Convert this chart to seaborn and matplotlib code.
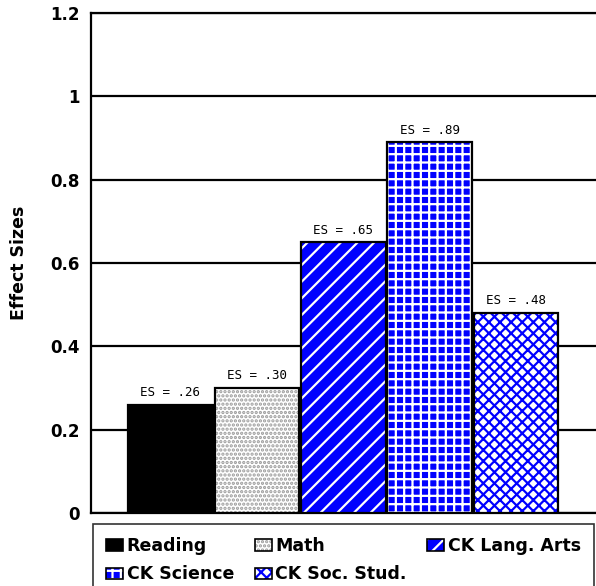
import matplotlib
matplotlib.use("Agg")
import matplotlib.pyplot as plt
import seaborn as sns
import pandas as pd
from matplotlib.patches import Patch, Rectangle

subjects = ["Reading", "Math", "CK Lang. Arts", "CK Science", "CK Soc. Stud."]
effect_sizes = [0.26, 0.30, 0.65, 0.89, 0.48]
es_labels = ["ES = .26", "ES = .30", "ES = .65", "ES = .89", "ES = .48"]
y_ticks = [0, 0.2, 0.4, 0.6, 0.8, 1.0, 1.2]
y_tick_labels = ["0", "0.2", "0.4", "0.6", "0.8", "1", "1.2"]

face_colors = ["black", "white", "#0000ff", "#0000ff", "white"]
hatch_colors = ["black", "#9a9a9a", "white", "white", "#0000ff"]
hatches = ["", "....", "//", "++", "xxx"]

df = pd.DataFrame({"Subject": subjects, "ES": effect_sizes})

sns.set_style("white")
plt.rcParams["hatch.linewidth"] = 1.6
plt.rcParams["font.family"] = ["DejaVu Sans"]
for key in ["text.color", "axes.labelcolor", "xtick.color", "ytick.color"]:
    plt.rcParams[key] = "black"

fig = plt.figure(figsize=(5.96, 5.86), dpi=100)
ax = fig.add_axes([91 / 596, 1 - 513 / 586, 505 / 596, 500 / 586])

sns.barplot(
    data=df, x="Subject", y="ES", hue="Subject",
    palette=dict(zip(subjects, face_colors)),
    width=0.98, legend=False, ax=ax, zorder=3,
)

for p, fc, hc, h, lab in zip(ax.patches, face_colors, hatch_colors, hatches, es_labels):
    p.set_facecolor(fc)
    p.set_edgecolor(hc)
    p.set_hatch(h)
    p.set_linewidth(0)
    ax.add_patch(Rectangle(p.get_xy(), p.get_width(), p.get_height(),
                           fill=False, edgecolor="black", linewidth=1.6, zorder=4))
    ax.annotate(lab, (p.get_x() + p.get_width() / 2, p.get_height()),
                xytext=(0, 4), textcoords="offset points", color="black",
                ha="center", va="bottom", fontsize=9, family="DejaVu Sans Mono")

ax.set_xlim(-0.92, 4.925)
ax.set_ylim(0, 1.2)
ax.set_yticks(y_ticks)
ax.set_yticklabels(y_tick_labels, fontsize=12, fontweight="bold", color="black")
ax.tick_params(axis="y", length=0, pad=8)
ax.set_xticks([])
ax.set_xlabel("")
ax.set_ylabel("Effect Sizes", fontsize=12.5, fontweight="bold", labelpad=16, color="black")

ax.yaxis.grid(True, color="black", linewidth=1.6, zorder=1)
ax.set_axisbelow(True)
for side in ["left", "top", "bottom"]:
    ax.spines[side].set_color("black")
    ax.spines[side].set_linewidth(1.6)
ax.spines["right"].set_visible(False)

handles = []
for fc, hc, h in zip(face_colors, hatch_colors, hatches):
    handles.append((Patch(facecolor=fc, edgecolor=hc, hatch=h, linewidth=0),
                    Patch(fill=False, edgecolor="black", linewidth=1.2)))

# legend fills columns first, so reorder to get rows Reading/Math/Lang, Science/Soc
order = [0, 3, 1, 4, 2]
leg = fig.legend(
    [handles[i] for i in order], [subjects[i] for i in order],
    loc="upper left", bbox_to_anchor=(93 / 596, 1 - 524 / 586, 501 / 596, 0),
    mode="expand", ncol=3, frameon=True, fancybox=False,
    prop={"weight": "bold", "size": 12.5},
    handlelength=1.0, handleheight=0.65, handletextpad=0.2,
    labelspacing=0.6, borderpad=0.75, borderaxespad=0,
)
leg.get_frame().set_edgecolor("black")
leg.get_frame().set_linewidth(1.2)
for t in leg.get_texts():
    t.set_color("black")

fig.savefig("out.png", dpi=100, facecolor="white")
